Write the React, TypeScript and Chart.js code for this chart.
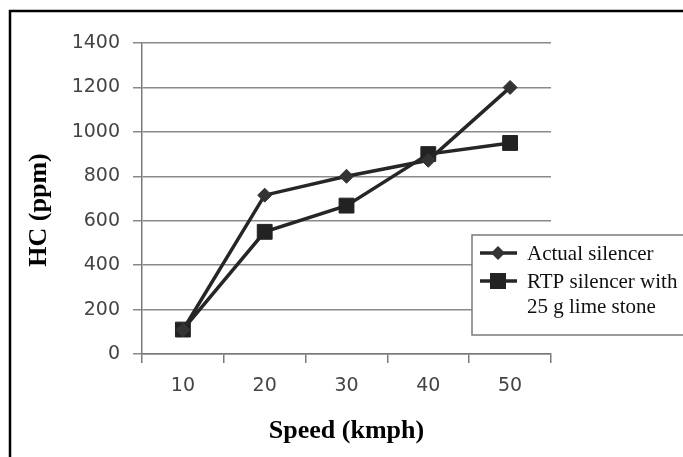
import { useEffect, useRef } from "react";
import { Chart, registerables } from "chart.js";

Chart.register(...registerables);

const categories = ["10", "20", "30", "40", "50"];
const actualSilencer = [108, 715, 800, 872, 1200];
const rtpSilencer = [110, 550, 668, 900, 950];
const seriesNames = ["Actual silencer", "RTP silencer with|25 g lime stone"];
const xTitle = "Speed (kmph)";
const yTitle = "HC (ppm)";
const yMin = 0;
const yMax = 1400;
const yStep = 200;

const LINE = "#262626";

const decorPlugin = {
  id: "decor",
  afterDraw(chart: any) {
    const ctx = chart.ctx as CanvasRenderingContext2D;
    ctx.save();
    // outer frame (cropped on right/bottom)
    ctx.strokeStyle = "#000";
    ctx.lineWidth = 2.5;
    ctx.beginPath();
    ctx.moveTo(10, 460);
    ctx.lineTo(10, 11);
    ctx.lineTo(690, 11);
    ctx.stroke();

    // y title
    ctx.fillStyle = "#000";
    ctx.font = "bold 26px 'Liberation Serif'";
    ctx.textAlign = "center";
    ctx.textBaseline = "middle";
    ctx.translate(39, 210);
    ctx.rotate(-Math.PI / 2);
    ctx.fillText(yTitle, 0, 0);
    ctx.setTransform(1, 0, 0, 1, 0, 0);
    ctx.restore();

    ctx.save();
    // legend box
    ctx.fillStyle = "#fff";
    ctx.strokeStyle = "#7a7a7a";
    ctx.lineWidth = 1.5;
    ctx.fillRect(472, 235, 230, 100);
    ctx.strokeRect(472, 235, 230, 100);

    const rows = [253, 281];
    chart.data.datasets.forEach((ds: any, i: number) => {
      const cy = rows[i];
      ctx.strokeStyle = ds.borderColor;
      ctx.lineWidth = 3.5;
      ctx.beginPath();
      ctx.moveTo(480, cy);
      ctx.lineTo(517, cy);
      ctx.stroke();
      ctx.fillStyle = ds.pointBackgroundColor;
      ctx.beginPath();
      if (ds.pointStyle === "rectRot") {
        const r = 7;
        ctx.moveTo(498, cy - r);
        ctx.lineTo(498 + r, cy);
        ctx.lineTo(498, cy + r);
        ctx.lineTo(498 - r, cy);
        ctx.closePath();
      } else {
        ctx.rect(490, cy - 8, 16, 16);
      }
      ctx.fill();
      ctx.fillStyle = "#111";
      ctx.font = "21px 'Liberation Serif'";
      ctx.textAlign = "left";
      ctx.textBaseline = "middle";
      const lines = String(ds.label).split("|");
      lines.forEach((t: string, k: number) => {
        ctx.fillText(t, 527, cy + 1 + k * 25);
      });
    });
    ctx.restore();
  },
};

export default function App() {
  const ref = useRef<HTMLCanvasElement | null>(null);
  useEffect(() => {
    const chart = new Chart(ref.current!, {
      type: "line",
      data: {
        labels: categories,
        datasets: [
          {
            label: seriesNames[0],
            data: actualSilencer,
            borderColor: LINE,
            backgroundColor: LINE,
            pointBackgroundColor: "#333",
            pointBorderColor: "#333",
            borderWidth: 3.5,
            pointStyle: "rectRot",
            pointRadius: 7,
            pointBorderWidth: 1,
            tension: 0,
          },
          {
            label: seriesNames[1],
            data: rtpSilencer,
            borderColor: LINE,
            backgroundColor: LINE,
            pointBackgroundColor: "#222",
            pointBorderColor: "#222",
            borderWidth: 3.5,
            pointStyle: "rect",
            pointRadius: 10.5,
            pointBorderWidth: 1,
            tension: 0,
          },
        ],
      },
      options: {
        animation: false,
        responsive: false,
        devicePixelRatio: 1,
        layout: { padding: { left: 0, top: 43, right: 132, bottom: 0 } },
        plugins: {
          legend: { display: false },
          tooltip: { enabled: false },
        },
        scales: {
          x: {
            type: "category",
            offset: true,
            grid: {
              offset: true,
              drawOnChartArea: false,
              drawTicks: true,
              tickLength: 9,
              color: "#7a7a7a",
              lineWidth: 1.5,
            },
            border: { display: true, color: "#7a7a7a", width: 1.5 },
            ticks: {
              font: { family: "'DejaVu Sans'", size: 19 },
              color: "#444",
              padding: 12,
              maxRotation: 0,
            },
            title: {
              display: true,
              text: xTitle,
              font: { family: "'Liberation Serif'", size: 26, weight: "bold" },
              color: "#000",
              padding: { top: 0, bottom: 10 },
            },
            afterFit: (s: any) => {
              s.height = 103;
            },
          },
          y: {
            min: yMin,
            max: yMax,
            ticks: {
              stepSize: yStep,
              font: { family: "'DejaVu Sans'", size: 19 },
              color: "#444",
              padding: 13,
              callback: (v: any) => String(v),
            },
            grid: {
              drawTicks: true,
              tickLength: 9,
              color: "#8a8a8a",
              lineWidth: 1.5,
            },
            border: { display: true, color: "#7a7a7a", width: 1.5 },
            afterFit: (s: any) => {
              s.width = 142;
            },
          },
        },
      },
      plugins: [decorPlugin],
    } as any);
    return () => chart.destroy();
  }, []);
  return (
    <div style={{ position: "fixed", left: 0, top: 0, width: 683, height: 457, background: "#fff" }}>
      <canvas ref={ref} width={683} height={457} />
    </div>
  );
}
